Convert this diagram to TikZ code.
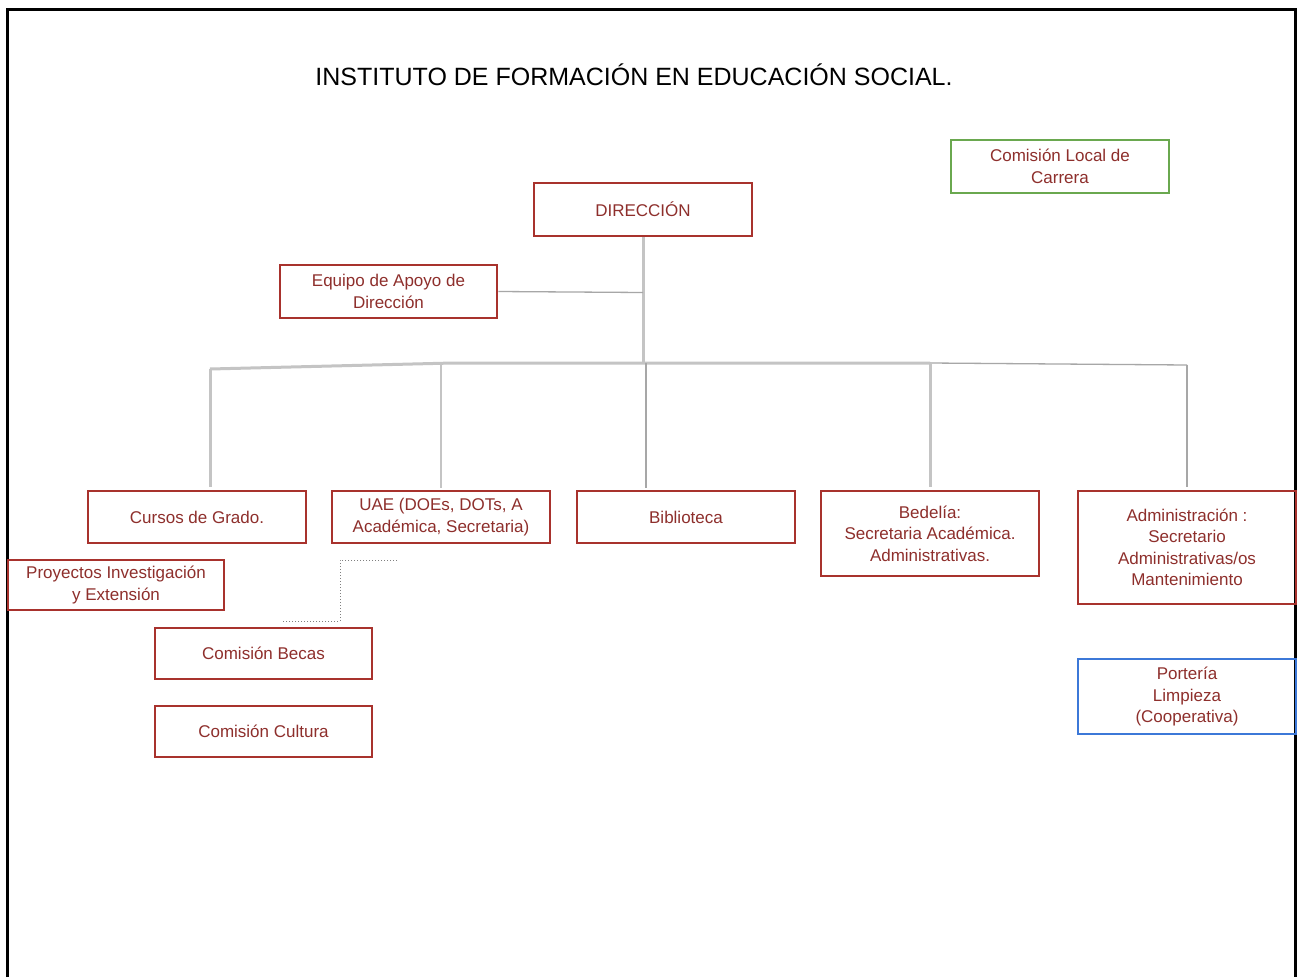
\documentclass[tikz,border=0pt]{standalone}
\usepackage{fontspec}
\setmainfont{Liberation Sans}
\begin{document}
\begin{tikzpicture}[x=1pt,y=-1pt]
\definecolor{boxred}{HTML}{A8322D}
\definecolor{txtred}{HTML}{8E2F2C}
\definecolor{boxgreen}{HTML}{6AA84F}
\definecolor{boxblue}{HTML}{3C78D8}
\definecolor{linegray}{HTML}{C4C4C4}
\tikzset{
  orgbox/.style={draw=boxred, line width=2.7pt, inner sep=0pt, align=center, text=txtred,
    font=\fontsize{17}{21.5}\selectfont},
  greenbox/.style={orgbox, draw=boxgreen},
  bluebox/.style={orgbox, draw=boxblue},
  thickline/.style={draw=linegray, line width=3pt},
  midline/.style={draw=linegray, line width=2.2pt},
  thinline/.style={draw=linegray!85!black, line width=1.3pt},
  dotline/.style={draw=gray, line width=1pt, dotted}
}
\useasboundingbox (0,0) rectangle (1298,977);
\fill[white] (0,0) rectangle (1298,977);
% frame
\draw[line width=3pt, black] (7,977) -- (7,9) -- (1295,9) -- (1295,977);
% title
\node[font=\fontsize{25}{29}\selectfont, text=black] (title) at (634,75) {INSTITUTO DE FORMACIÓN EN EDUCACIÓN SOCIAL.};
% boxes
\node[greenbox, minimum width=218, minimum height=53] (clc) at (1060,166.5) {Comisión Local de\\Carrera};
\node[orgbox, minimum width=218, minimum height=53] (dir) at (643,209.5) {DIRECCIÓN};
\node[orgbox, minimum width=217, minimum height=53] (eq) at (388.5,291.5) {Equipo de Apoyo de\\Dirección};
\node[orgbox, minimum width=218, minimum height=52] (cur) at (197,517) {Cursos de Grado.};
\node[orgbox, minimum width=218, minimum height=52] (uae) at (441,517) {UAE (DOEs, DOTs, A\\Académica, Secretaria)};
\node[orgbox, minimum width=218, minimum height=52] (bib) at (686,517) {Biblioteca};
\node[orgbox, minimum width=218, minimum height=85] (bed) at (930,533.5) {Bedelía:\\Secretaria Académica.\\Administrativas.};
\node[orgbox, minimum width=218, minimum height=113] (adm) at (1187,547.5) {Administración :\\Secretario\\Administrativas/os\\Mantenimiento};
\node[orgbox, minimum width=216, minimum height=50] (pro) at (116,585) {Proyectos Investigación\\y Extensión};
\node[orgbox, minimum width=217, minimum height=51] (bec) at (263.5,653.5) {Comisión Becas};
\node[orgbox, minimum width=217, minimum height=51] (cul) at (263.5,731.5) {Comisión Cultura};
\node[bluebox, minimum width=218, minimum height=75] (por) at (1187,696.5) {Portería\\Limpieza\\(Cooperativa)};
% connectors
\coordinate (j0) at (643,292.5);
\coordinate (j1) at (643,363);
\coordinate (bl) at (210,369);
\coordinate (bm) at (453,363);
\coordinate (b2) at (441,363.5);
\coordinate (b3) at (646,363);
\coordinate (b4) at (930,363);
\coordinate (b5) at (1187,365);
\draw[thickline] (dir.south) -- (j1);
\draw[thinline] (eq.east) -- (j0);
\draw[thickline] (bl) -- (bm) -- (b4);
\draw[thinline] (b4) -- (b5);
\draw[thickline, shorten >=3pt] (bl) -- (bl |- cur.north);
\draw[midline, shorten >=2pt] (b2) -- (b2 |- uae.north);
\draw[thinline, shorten >=2pt] (b3) -- (b3 |- bib.north);
\draw[thickline, shorten >=3pt] (b4) -- (b4 |- bed.north);
\draw[thinline, shorten >=3pt] (b5) -- (b5 |- adm.north);
% dotted link
\coordinate (d0) at (397,560);
\coordinate (d1) at (282,621);
\draw[dotline] (d0) -- (340,560) -- (340,621) -- (d1);
\end{tikzpicture}
\end{document}
